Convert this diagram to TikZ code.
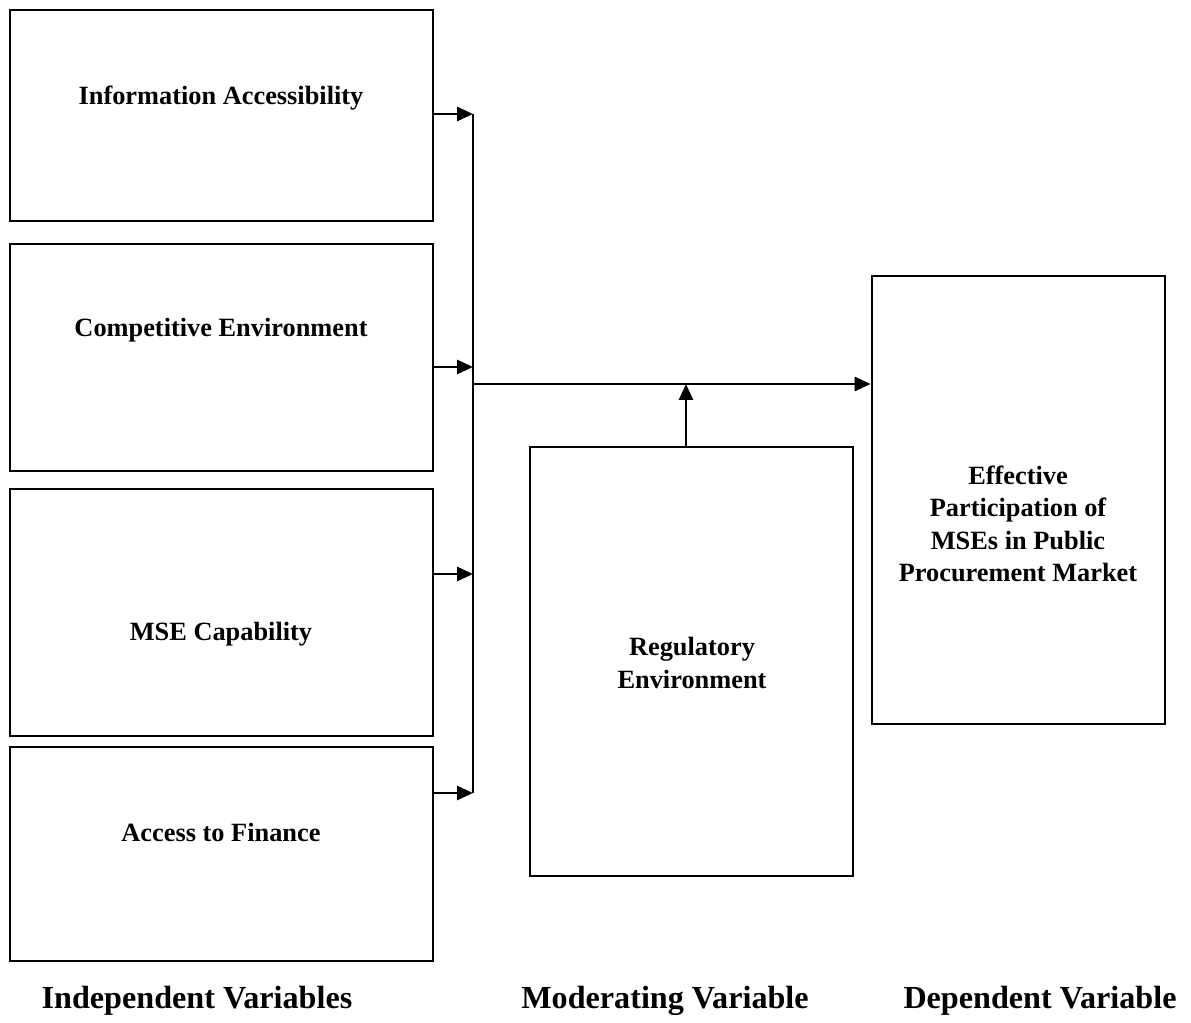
\documentclass[tikz,border=0pt]{standalone}
\usepackage{fontspec}
\setmainfont{Liberation Serif}
\usetikzlibrary{arrows.meta}

\begin{document}
\begin{tikzpicture}[x=0.02cm,y=-0.02cm,->,>={Triangle[length=0.32cm,width=0.28cm]},
	line width=1.6pt,
	var box/.style={draw,rectangle,minimum width=8.46cm},
	box text/.style={font=\bfseries\fontsize{15}{18.5}\selectfont,align=center},
	var title/.style={font=\bfseries\fontsize{18.3}{22}\selectfont}]
	
	\useasboundingbox (0,0) rectangle (1191,1023);
	
	% independent variables
	\node[var box,minimum height=4.22cm] (info) at (221.5,115.5) {};
	\node[var box,minimum height=4.54cm] (comp) at (221.5,357.5) {};
	\node[var box,minimum height=4.94cm] (mse) at (221.5,612.5) {};
	\node[var box,minimum height=4.28cm] (fin) at (221.5,854) {};
	\node[box text] (infot) at (221,98) {Information Accessibility};
	\node[box text] (compt) at (221,330) {Competitive Environment};
	\node[box text] (mset) at (221,634) {MSE Capability};
	\node[box text] (fint) at (221,832) {Access to Finance};
	
	% moderating and dependent variables
	\node[draw,minimum width=6.46cm,minimum height=8.58cm] (reg) at (691.5,661.5) {};
	\node[box text] (regt) at (692,663) {Regulatory\\Environment};
	\node[draw,minimum width=5.86cm,minimum height=8.96cm] (eff) at (1018.5,500) {};
	\node[box text] (efft) at (1018,524) {Effective\\Participation of\\MSEs in Public\\Procurement Market};
	
	% bus
	\coordinate (b1) at (473,114);
	\coordinate (b2) at (473,367);
	\coordinate (b3) at (473,574);
	\coordinate (b4) at (473,793);
	\coordinate (join) at (473,384);
	\coordinate (mod) at (686,384);
	
	\draw (b1 -| info.east) -- (b1);
	\draw (b2 -| comp.east) -- (b2);
	\draw (b3 -| mse.east) -- (b3);
	\draw (b4 -| fin.east) -- (b4);
	\draw[-] (b1) -- (b4);
	\draw (join) -- (join -| eff.west);
	\draw (mod |- reg.north) -- (mod);
	
	% titles
	\node[var title] (indep) at (197,1001) {Independent Variables};
	\node[var title] (moder) at (665,1001) {Moderating Variable};
	\node[var title] (dep) at (1040,1001) {Dependent Variable};
	
\end{tikzpicture}
\end{document}
